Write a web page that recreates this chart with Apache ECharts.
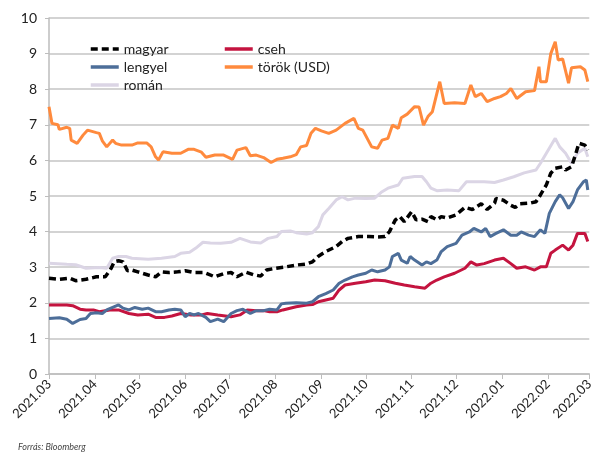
<!DOCTYPE html>
<html>
<head>
<meta charset="utf-8">
<script src="https://cdn.jsdelivr.net/npm/echarts@6/dist/echarts.min.js"></script>
<style>
  html, body { margin: 0; padding: 0; background: #fff; }
  #chart { width: 596px; height: 452px; }
</style>
</head>
<body>
<div id="chart"></div>
<script>
// day offsets from 2021-03-01, value in %
const magyar = [
  [0, 2.69], [7, 2.66], [14, 2.69], [18, 2.62], [25, 2.66], [32, 2.73], [38, 2.73], [42, 2.97],
  [44, 3.15], [47, 3.18], [50, 3.15], [53, 2.9], [56, 2.92], [60, 2.87], [67, 2.78], [72, 2.73],
  [76, 2.87], [81, 2.85], [87, 2.87], [92, 2.9], [98, 2.85], [105, 2.85], [112, 2.73], [118, 2.82],
  [123, 2.85], [127, 2.73], [133, 2.86], [138, 2.79], [143, 2.75], [147, 2.92], [153, 2.97],
  [160, 3.01], [167, 3.06], [174, 3.09], [178, 3.15], [182, 3.31], [187, 3.44], [194, 3.58],
  [198, 3.72], [202, 3.81], [209, 3.86], [216, 3.86], [222, 3.85], [227, 3.86], [230, 4.0],
  [234, 4.33], [237, 4.42], [240, 4.28], [245, 4.56], [248, 4.33], [252, 4.35], [256, 4.28],
  [258, 4.42], [262, 4.33], [265, 4.42], [269, 4.38], [275, 4.47], [281, 4.68], [286, 4.62],
  [292, 4.78], [296, 4.62], [301, 4.8], [302, 4.93], [307, 4.88], [312, 4.74], [315, 4.68],
  [318, 4.78], [325, 4.8], [329, 4.84], [332, 5.03], [336, 5.31], [339, 5.64], [342, 5.78],
  [347, 5.82], [349, 5.73], [353, 5.82], [356, 6.2], [358, 6.48], [362, 6.43], [364, 6.29]
]
const cseh = [
  [0, 1.94], [12, 1.94], [16, 1.92], [21, 1.82], [25, 1.8], [30, 1.8], [34, 1.75], [41, 1.8],
  [47, 1.8], [54, 1.7], [60, 1.66], [67, 1.68], [72, 1.59], [78, 1.59], [83, 1.63], [89, 1.7],
  [96, 1.66], [103, 1.66], [107, 1.7], [114, 1.66], [123, 1.61], [129, 1.66], [134, 1.8],
  [140, 1.78], [145, 1.78], [149, 1.75], [154, 1.75], [158, 1.8], [167, 1.89], [174, 1.94],
  [178, 1.95], [182, 2.03], [187, 2.08], [192, 2.13], [196, 2.36], [200, 2.5], [207, 2.55],
  [214, 2.59], [220, 2.64], [227, 2.62], [234, 2.55], [240, 2.5], [247, 2.45], [254, 2.41],
  [258, 2.55], [262, 2.64], [267, 2.73], [274, 2.83], [281, 2.97], [285, 3.15], [289, 3.06],
  [294, 3.1], [301, 3.2], [307, 3.25], [312, 3.1], [316, 2.97], [322, 3.01], [328, 2.92],
  [332, 3.01], [336, 3.01], [339, 3.39], [342, 3.48], [347, 3.62], [351, 3.48], [354, 3.62],
  [357, 3.95], [362, 3.95], [364, 3.72]
]
const lengyel = [
  [0, 1.56], [7, 1.58], [12, 1.54], [16, 1.42], [21, 1.53], [25, 1.56], [28, 1.7], [32, 1.72],
  [36, 1.7], [39, 1.8], [43, 1.87], [47, 1.94], [50, 1.85], [54, 1.8], [58, 1.87], [63, 1.82],
  [67, 1.85], [72, 1.75], [76, 1.75], [81, 1.8], [85, 1.82], [89, 1.8], [92, 1.61], [95, 1.7],
  [98, 1.66], [101, 1.7], [106, 1.59], [109, 1.47], [114, 1.54], [118, 1.47], [123, 1.7],
  [127, 1.78], [131, 1.82], [136, 1.7], [140, 1.78], [145, 1.78], [149, 1.82], [154, 1.8],
  [157, 1.97], [160, 1.99], [167, 2.0], [174, 1.99], [178, 2.03], [182, 2.17], [187, 2.26],
  [192, 2.36], [196, 2.55], [200, 2.64], [205, 2.73], [209, 2.78], [214, 2.83], [218, 2.92],
  [222, 2.87], [227, 2.92], [230, 3.01], [232, 3.3], [236, 3.39], [238, 3.2], [242, 3.11],
  [244, 3.3], [247, 3.2], [252, 3.06], [255, 3.15], [258, 3.1], [262, 3.2], [265, 3.44],
  [269, 3.58], [275, 3.67], [279, 3.9], [284, 3.99], [287, 4.09], [292, 3.99], [295, 4.09],
  [298, 3.86], [302, 3.95], [307, 4.05], [312, 3.9], [316, 3.9], [319, 3.99], [324, 3.9],
  [328, 3.86], [332, 4.05], [335, 3.95], [338, 4.51], [342, 4.84], [345, 5.03], [347, 4.95],
  [351, 4.65], [354, 4.84], [357, 5.17], [361, 5.4], [363, 5.45], [364, 5.17]
]
const torok = [
  [0, 7.51], [2, 7.04], [6, 7.0], [7, 6.87], [12, 6.93], [14, 6.9], [15, 6.57], [19, 6.48],
  [23, 6.71], [26, 6.85], [32, 6.78], [34, 6.76], [36, 6.55], [39, 6.38], [43, 6.57], [45, 6.48],
  [49, 6.43], [56, 6.43], [60, 6.49], [66, 6.49], [69, 6.38], [72, 6.1], [74, 6.01], [77, 6.24],
  [83, 6.2], [89, 6.2], [94, 6.31], [98, 6.31], [103, 6.23], [106, 6.09], [112, 6.15], [118, 6.15],
  [124, 6.03], [127, 6.29], [133, 6.36], [136, 6.13], [140, 6.15], [145, 6.08], [150, 5.94],
  [154, 6.03], [158, 6.06], [163, 6.1], [167, 6.16], [170, 6.38], [174, 6.42], [177, 6.76],
  [180, 6.9], [184, 6.83], [189, 6.76], [194, 6.85], [200, 7.04], [206, 7.18], [209, 6.9],
  [212, 6.85], [218, 6.38], [222, 6.34], [225, 6.57], [229, 6.62], [232, 6.99], [236, 6.9],
  [238, 7.2], [242, 7.3], [247, 7.51], [250, 7.5], [253, 6.99], [256, 7.23], [259, 7.37],
  [264, 8.21], [267, 7.6], [274, 7.62], [281, 7.6], [285, 8.12], [288, 7.79], [292, 7.88],
  [296, 7.65], [301, 7.74], [305, 7.79], [309, 7.88], [312, 8.02], [316, 7.74], [322, 7.93],
  [328, 7.96], [331, 8.63], [332, 8.21], [336, 8.21], [339, 9.0], [342, 9.33], [344, 8.82],
  [347, 8.85], [351, 8.17], [353, 8.6], [359, 8.63], [362, 8.54], [364, 8.21]
]
const roman = [
  [0, 3.11], [12, 3.08], [18, 3.07], [25, 2.97], [34, 2.99], [39, 2.97], [43, 3.25], [47, 3.3],
  [52, 3.3], [56, 3.25], [67, 3.22], [76, 3.25], [85, 3.3], [89, 3.39], [95, 3.42], [99, 3.53],
  [104, 3.7], [109, 3.68], [116, 3.67], [123, 3.7], [129, 3.81], [136, 3.71], [143, 3.68],
  [148, 3.81], [154, 3.86], [157, 4.0], [163, 4.02], [167, 3.97], [174, 3.93], [178, 3.97],
  [182, 4.14], [185, 4.47], [189, 4.65], [194, 4.89], [198, 4.98], [202, 4.89], [207, 4.94],
  [214, 4.93], [220, 4.94], [225, 5.12], [229, 5.22], [236, 5.31], [239, 5.5], [247, 5.55],
  [252, 5.55], [255, 5.4], [258, 5.22], [262, 5.15], [269, 5.17], [277, 5.15], [282, 5.4],
  [287, 5.4], [294, 5.4], [301, 5.38], [307, 5.45], [314, 5.54], [321, 5.65], [329, 5.73],
  [332, 5.92], [336, 6.2], [342, 6.62], [345, 6.38], [349, 6.2], [353, 5.92], [357, 6.2],
  [362, 6.34], [364, 6.1]
]
// month starts as day offsets from 2021-03-01
const monthTicks = [0, 31, 61, 92, 122, 153, 184, 214, 245, 275, 306, 337, 365]

const fmtDay = (d) => {
  const dt = new Date(2021, 2, 1 + Math.round(d))
  return dt.getFullYear() + '.' + String(dt.getMonth() + 1).padStart(2, '0')
}

const line = (name, data, color, extra = {}) => ({
  name,
  type: 'line',
  data,
  symbol: 'none',
  animation: false,
  lineStyle: { color, width: 3, ...extra },
  itemStyle: { color }
})

const legendBase = {
  orient: 'vertical',
  top: 37,
  itemWidth: 28, itemHeight: 14, itemGap: 4,
  // hide the round marker, keep only the line sample
  itemStyle: { color: 'transparent', borderColor: 'transparent', borderWidth: 0 },
  lineStyle: { width: 3.5 },
  textStyle: { fontSize: 14, color: '#222', lineHeight: 14 }
}

const chart = echarts.init(document.getElementById('chart'))
chart.setOption({
  animation: false,
  textStyle: { fontFamily: 'Lato' },
  grid: { left: 49, right: 0, top: 18, bottom: 78 },
  legend: [
    { ...legendBase, data: ['magyar', 'lengyel', 'román'], left: 84 },
    { ...legendBase, data: ['cseh', 'török (USD)'], left: 218 }
  ],
  xAxis: {
    type: 'value',
    min: 0,
    max: 365,
    splitLine: { show: false },
    axisLine: { lineStyle: { color: '#bdbdbd', width: 1.5 } },
    axisTick: { show: true, length: 5, customValues: monthTicks, lineStyle: { color: '#bdbdbd' } },
    axisLabel: {
      customValues: monthTicks,
      rotate: 45,
      margin: 8,
      fontSize: 13,
      color: '#222',
      formatter: fmtDay
    }
  },
  yAxis: {
    type: 'value',
    min: 0,
    max: 10,
    interval: 1,
    axisLine: { show: true, lineStyle: { color: '#bdbdbd', width: 1.5 } },
    axisTick: { show: true, length: 4, lineStyle: { color: '#bdbdbd' } },
    splitLine: { lineStyle: { color: '#c4c4c4', width: 1.5 } },
    axisLabel: { fontSize: 14, color: '#222', margin: 12 }
  },
  graphic: [{
    type: 'text',
    left: 18,
    top: 443,
    style: { text: 'Forrás: Bloomberg', fontSize: 9, fontStyle: 'italic', fill: '#444', fontFamily: 'Lato' }
  }],
  series: [
    line('román', roman, '#dbd5e5'),
    line('török (USD)', torok, '#ff8a3d'),
    line('cseh', cseh, '#c4143f'),
    line('lengyel', lengyel, '#4d6e99'),
    line('magyar', magyar, '#000000', { width: 3.5, type: [7, 4] })
  ]
})
</script>
</body>
</html>
